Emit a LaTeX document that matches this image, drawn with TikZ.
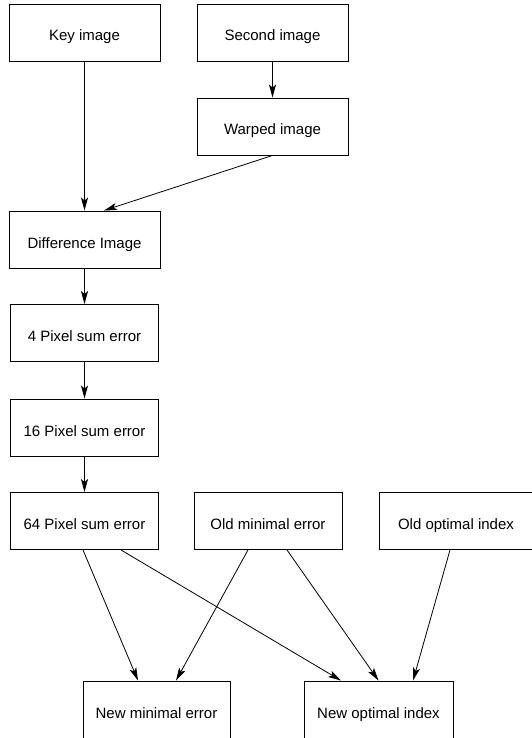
\documentclass[tikz,border=0pt]{standalone}
\usepackage{fontspec}
\setmainfont{Liberation Sans}
\usetikzlibrary{arrows.meta}

\begin{document}
\begin{tikzpicture}[x=1pt, y=-1pt,
		box/.style={draw, line width=0.9pt, rectangle, minimum width=151pt, minimum height=57pt,
			inner sep=0pt, text height=17pt, text depth=0pt, font=\fontsize{15}{18}\selectfont},
		pfeil/.style={line width=0.8pt, -{Stealth[length=13pt, width=7pt, inset=3pt]}}]
		\useasboundingbox (0,0) rectangle (532,738);
		
		% Eingangsbilder
		\node[box] (key) at (84.5,32.5) {Key image};
		\node[box] (second) at (272.5,32.5) {Second image};
		\node[box] (warped) at (272.5,126.5) {Warped image};
		
		% Fehlerkette
		\node[box] (diff) at (84.5,239.5) {Difference Image};
		\node[box, minimum width=148pt] (four) at (84.5,333) {4 Pixel sum error};
		\node[box, minimum width=148pt] (sixteen) at (84.5,427.5) {16 Pixel sum error};
		\node[box, minimum width=148pt] (sixtyfour) at (84.5,521) {64 Pixel sum error};
		
		% Alte Werte
		\node[box, minimum width=148pt] (oldmin) at (268,521) {Old minimal error};
		\node[box, minimum width=154pt] (oldopt) at (456,521) {Old optimal index};
		
		% Neue Werte
		\node[box, minimum width=147pt, minimum height=58pt] (newmin) at (156.5,710) {New minimal error};
		\node[box, minimum width=149pt, minimum height=58pt] (newopt) at (378.5,710) {New optimal index};
		
		% Pfeile
		\draw[pfeil] (key.south) -- (diff.north);
		\draw[pfeil] (second.south) -- (warped.north);
		\draw[pfeil] (warped.south) -- ([xshift=19.5pt]diff.north);
		\draw[pfeil] (diff.south) -- (four.north);
		\draw[pfeil] (four.south) -- (sixteen.north);
		\draw[pfeil] (sixteen.south) -- (sixtyfour.north);
		\draw[pfeil] ([xshift=-1.5pt]sixtyfour.south) -- ([xshift=-18.5pt]newmin.north);
		\draw[pfeil] ([xshift=36.5pt]sixtyfour.south) -- ([xshift=-37.5pt]newopt.north);
		\draw[pfeil] ([xshift=-20pt]oldmin.south) -- ([xshift=19.5pt]newmin.north);
		\draw[pfeil] ([xshift=19pt]oldmin.south) -- (newopt.north);
		\draw[pfeil] ([xshift=-6pt]oldopt.south) -- ([xshift=34.5pt]newopt.north);
	\end{tikzpicture}
\end{document}
